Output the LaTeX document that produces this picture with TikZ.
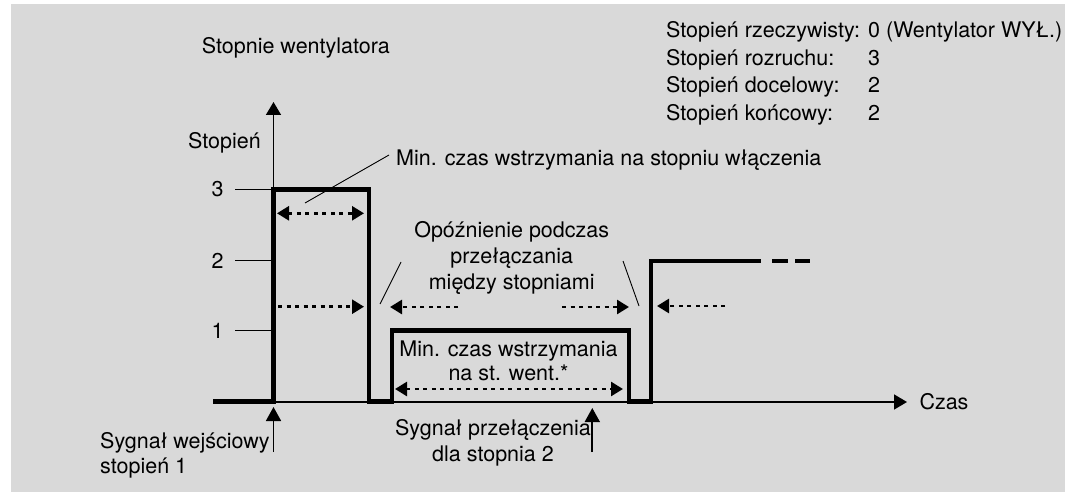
\documentclass[tikz,border=0pt]{standalone}
\usepackage{fontspec}
\setmainfont{TeX Gyre Heros}
\usetikzlibrary{arrows.meta}
\definecolor{panel}{RGB}{217,217,217}
\begin{document}
\begin{tikzpicture}[x=1pt,y=-1pt,
  txt/.style={inner sep=0pt, font=\fontsize{21.5}{25}\selectfont},
  signal/.style={line width=4.6pt, line join=miter, line cap=butt},
  axis/.style={line width=1.6pt, -{Triangle[length=13pt,width=15pt]}},
  trigger/.style={line width=1.7pt, -{Triangle[length=14pt,width=15pt]}},
  tickline/.style={line width=1pt},
  leader/.style={line width=0.9pt},
  interval/.style={line width=2.6pt, dash pattern=on 4pt off 4.5pt},
  tipr/.style={-{Triangle[length=12pt,width=14pt]}},
  tipb/.style={{Triangle[length=12pt,width=14pt]}-{Triangle[length=12pt,width=14pt]}}
]
% canvas and panel
\useasboundingbox (0,0) rectangle (1076,492);
\fill[white] (0,0) rectangle (1076,492);
\fill[panel] (11,4) rectangle (1065,492);

% axes
\coordinate (O) at (273.5,402);
\coordinate (ytop) at (273.5,102);
\coordinate (xend) at (907,402);
\draw[axis] (O) -- (ytop);
\draw[axis] (O) -- (xend);

% level ticks and labels
\foreach \lv/\yy in {3/189.5,2/260.5,1/330.5}{
  \coordinate (tk\lv) at (235,\yy);
  \coordinate (ta\lv) at (273.5,\yy);
  \draw[tickline] (tk\lv) -- (ta\lv);
  \node[txt] (lv\lv) at (217.5,\yy) {\lv};
}

% fan stage signal
\coordinate (s0) at (213,401.5);
\coordinate (s1) at (273.5,401.5);
\coordinate (s2) at (273.5,189.5);
\coordinate (s3) at (369,189.5);
\coordinate (s4) at (369,401.5);
\coordinate (s5) at (392,401.5);
\coordinate (s6) at (392,330.5);
\coordinate (s7) at (629,330.5);
\coordinate (s8) at (629,401.5);
\coordinate (s9) at (651,401.5);
\coordinate (s10) at (651,261);
\coordinate (s11) at (761,261);
\draw[signal] (s0) -- (s1) -- (s2) -- (s3) -- (s4) -- (s5) -- (s6)
  -- (s7) -- (s8) -- (s9) -- (s10) -- (s11);
\coordinate (d1a) at (772,261); \coordinate (d1b) at (788,261);
\coordinate (d2a) at (795,261); \coordinate (d2b) at (810,261);
\draw[signal] (d1a) -- (d1b);
\draw[signal] (d2a) -- (d2b);

% time intervals
\coordinate (h1a) at (277,213.3);  \coordinate (h1b) at (364,213.3);
\draw[interval,tipb] (h1a) -- (h1b);
\coordinate (p1a) at (278,306.7);  \coordinate (p1b) at (364,306.7);
\draw[interval,tipr] (p1a) -- (p1b);
\coordinate (p2a) at (458,307);    \coordinate (p2b) at (390,307);
\draw[interval,tipr] (p2a) -- (p2b);
\coordinate (p3a) at (562,307);    \coordinate (p3b) at (629,307);
\draw[interval,tipr] (p3a) -- (p3b);
\coordinate (p4a) at (725,306);    \coordinate (p4b) at (657,306);
\draw[interval,tipr] (p4a) -- (p4b);
\coordinate (h2a) at (395,389);    \coordinate (h2b) at (623,389);
\draw[interval,tipb] (h2a) -- (h2b);

% trigger arrows
\coordinate (t1a) at (273.5,452); \coordinate (t1b) at (273.5,407);
\draw[trigger] (t1a) -- (t1b);
\coordinate (t2a) at (592.3,452); \coordinate (t2b) at (592.3,408);
\draw[trigger] (t2a) -- (t2b);

% texts
\node[txt,anchor=base west] (title) at (201.7,54) {Stopnie wentylatora};
\node[txt,anchor=base west] (ylab) at (188,148.3) {Stopień};
\node[txt,anchor=base west] (minon) at (396,165) {Min. czas wstrzymania na stopniu włączenia};
\node[txt,anchor=base] (op1) at (511.7,237.7) {Opóźnienie podczas};
\node[txt,anchor=base] (op2) at (511.7,263.3) {przełączania};
\node[txt,anchor=base] (op3) at (511.7,289.3) {między stopniami};
\node[txt,anchor=base] (hd1) at (508.5,356) {Min. czas wstrzymania};
\node[txt,anchor=base] (hd2) at (508.5,380) {na st. went.*};
\node[txt,anchor=base west] (czas) at (919.3,409.3) {Czas};
\node[txt,anchor=base west] (in1) at (100,448.3) {Sygnał wejściowy};
\node[txt,anchor=base west] (in2) at (100,473.3) {stopień 1};
\node[txt,anchor=base] (sw1) at (493,435) {Sygnał przełączenia};
\node[txt,anchor=base] (sw2) at (493,461) {dla stopnia 2};

% settings list
\node[txt,anchor=base west] (lg1) at (666,37.3) {Stopień rzeczywisty:};
\node[txt,anchor=base west] (lg2) at (666,65.1) {Stopień rozruchu:};
\node[txt,anchor=base west] (lg3) at (666,92.9) {Stopień docelowy:};
\node[txt,anchor=base west] (lg4) at (666,120.7) {Stopień końcowy:};
\node[txt,anchor=base west] (lv1v) at (868,37.3) {0 (Wentylator WYŁ.)};
\node[txt,anchor=base west] (lv2v) at (868,65.1) {3};
\node[txt,anchor=base west] (lv3v) at (868,92.9) {2};
\node[txt,anchor=base west] (lv4v) at (868,120.7) {2};

% leader lines
\coordinate (l1a) at (305,203);  \coordinate (l1b) at (389,155);
\draw[leader] (l1a) -- (l1b);
\coordinate (l2a) at (401,262);  \coordinate (l2b) at (380,304);
\draw[leader] (l2a) -- (l2b);
\coordinate (l3a) at (623,261);  \coordinate (l3b) at (639,306);
\draw[leader] (l3a) -- (l3b);
\end{tikzpicture}
\end{document}
